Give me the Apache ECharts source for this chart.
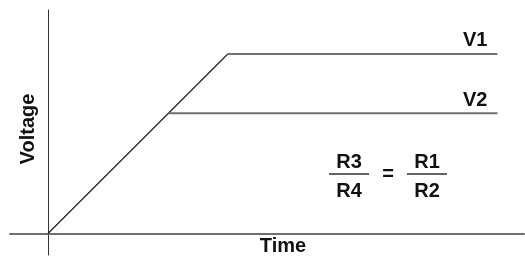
<!DOCTYPE html>
<html>
<head>
<meta charset="utf-8">
<script src="https://cdn.jsdelivr.net/npm/echarts@6/dist/echarts.min.js"></script>
<style>html,body{margin:0;padding:0;background:#fff;}#c{width:525px;height:265px;}</style>
</head>
<body>
<div id="c"></div>
<script>
// Data (time vs voltage, arbitrary units)
const rampTime = [0, 40];
const rampVoltage = [0, 100];
const v1Time = [40, 100];
const v1Voltage = [100, 100];
const v2Time = [26.8, 100];
const v2Voltage = [67, 67];
const seriesNames = ['V1', 'V2'];
const axisNames = ['Time', 'Voltage'];
const ratioLeft = ['R3', 'R4'];
const ratioRight = ['R1', 'R2'];

const zip = (a, b) => a.map((v, i) => [v, b[i]]);
const FONT = '"Liberation Sans", Arial, sans-serif';
const txt = (text, x, y) => ({
  type: 'text', x: x, y: y,
  style: { text: text, font: 'bold 20px ' + FONT, fill: '#111', align: 'center', verticalAlign: 'middle' }
});
const hline = (x1, x2, y) => ({
  type: 'line', shape: { x1: x1, y1: y, x2: x2, y2: y },
  style: { stroke: '#666', lineWidth: 2 }
});

const chart = echarts.init(document.getElementById('c'), null, { renderer: 'canvas' });
chart.setOption({
  animation: false,
  backgroundColor: '#fff',
  grid: { left: 10, right: 1, top: 10, bottom: 10, containLabel: false, outerBoundsMode: 'none' },
  xAxis: {
    type: 'value', min: -8.45, max: 105.9,
    name: axisNames[0], nameLocation: 'middle', nameGap: -19,
    nameTextStyle: { fontFamily: FONT, fontWeight: 'bold', fontSize: 20, color: '#111', padding: [0, 0, 0, 32], verticalAlign: 'top' },
    axisLine: { show: true, onZero: true, lineStyle: { color: '#707070', width: 2 } },
    axisTick: { show: false }, axisLabel: { show: false }, splitLine: { show: false }
  },
  yAxis: {
    type: 'value', min: -12.0, max: 124.5,
    name: axisNames[1], nameLocation: 'middle', nameGap: -18, nameRotate: 90,
    nameTextStyle: { fontFamily: FONT, fontWeight: 'bold', fontSize: 20, color: '#111', padding: [0, 0, 0, 7], verticalAlign: 'middle' },
    axisLine: { show: true, onZero: true, lineStyle: { color: '#333', width: 1 } },
    axisTick: { show: false }, axisLabel: { show: false }, splitLine: { show: false }
  },
  series: [
    {
      type: 'line', name: 'ramp', data: zip(rampTime, rampVoltage),
      symbol: 'none', lineStyle: { color: '#222', width: 1.2 }, silent: true
    },
    {
      type: 'line', name: seriesNames[0], data: zip(v1Time, v1Voltage),
      symbol: 'none', lineStyle: { color: '#707070', width: 2 }, silent: true,
      endLabel: { show: true, formatter: seriesNames[0], fontFamily: FONT, fontWeight: 'bold', fontSize: 20, color: '#111',
        align: 'right', verticalAlign: 'bottom', distance: 0, offset: [-10, -3] }
    },
    {
      type: 'line', name: seriesNames[1], data: zip(v2Time, v2Voltage),
      symbol: 'none', lineStyle: { color: '#707070', width: 2 }, silent: true,
      endLabel: { show: true, formatter: seriesNames[1], fontFamily: FONT, fontWeight: 'bold', fontSize: 20, color: '#111',
        align: 'right', verticalAlign: 'bottom', distance: 0, offset: [-10, -3] }
    }
  ],
  graphic: [
    txt(ratioLeft[0], 349, 162),
    hline(329, 369, 174),
    txt(ratioLeft[1], 349, 191),
    txt('=', 388, 174),
    txt(ratioRight[0], 427, 162),
    hline(407, 447, 174),
    txt(ratioRight[1], 427, 191)
  ]
});
</script>
</body>
</html>
